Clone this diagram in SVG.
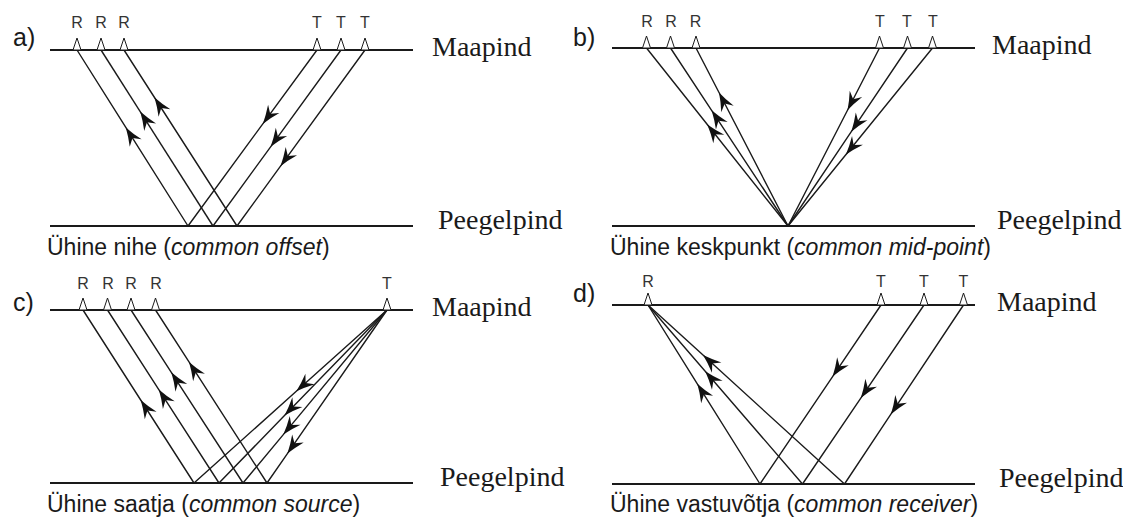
<svg xmlns="http://www.w3.org/2000/svg" xmlns:xlink="http://www.w3.org/1999/xlink" width="1123" height="524" viewBox="0 0 1123 524">
  <defs>
    <style>
      .surf{stroke:#1a1a1a;stroke-width:1.8;fill:none}
      .ray{stroke:#1a1a1a;stroke-width:1.4;fill:none;marker-mid:url(#ah)}
      .sta{fill:#fff;stroke:#1a1a1a;stroke-width:1}
      .lbl{font-family:"Liberation Sans",Arial,sans-serif;font-size:16px;fill:#333;text-anchor:middle}
      .tag{font-family:"Liberation Sans",Arial,sans-serif;font-size:25px;fill:#1a1a1a}
      .cap{font-family:"Liberation Sans",Arial,sans-serif;font-size:23px;fill:#1a1a1a}
      .it{font-style:italic}
      .lay{font-family:"Liberation Serif","Times New Roman",serif;font-size:28px;fill:#1a1a1a}
    </style>
    <!-- barbed arrowhead placed at the middle vertex of each ray -->
    <marker id="ah" viewBox="-20 -8 21 16" refX="0" refY="0" markerWidth="21" markerHeight="16" markerUnits="userSpaceOnUse" orient="auto">
      <path d="M0,0 Q-9,-2.6 -18.5,-7 L-12.5,0 L-18.5,7 Q-9,2.6 0,0 Z" fill="#111"/>
    </marker>
    <!-- station symbol (receiver / transmitter) sitting on the surface -->
    <path id="tri" d="M-4,0 L0,-12 L4,0 Z"/>
  </defs>

  <rect width="1123" height="524" fill="#fff"/>

  <!-- ===== a) common offset ===== -->
  <g id="panel-a">
    <text class="tag" x="13" y="46">a)</text>
    <line class="surf" x1="50" y1="50" x2="413" y2="50"/>
    <line class="surf" x1="50" y1="226" x2="413" y2="226"/>
    <text class="lay" x="432" y="56">Maapind</text>
    <text class="lay" x="438" y="229">Peegelpind</text>
    <text class="cap" x="47" y="255">Ühine nihe (<tspan class="it">common offset</tspan>)</text>
    <g id="a-rays">
      <polyline class="ray" points="188,226 125.8,127.4 77,50"/>
      <polyline class="ray" points="213,226 140.2,111.6 101,50"/>
      <polyline class="ray" points="237,226 154.5,97.5 124,50"/>
      <polyline class="ray" points="317,50 262.8,123.9 188,226"/>
      <polyline class="ray" points="341,50 270.6,146.8 213,226"/>
      <polyline class="ray" points="365,50 280.5,166.2 237,226"/>
    </g>
    <g id="a-R1"><use xlink:href="#tri" class="sta" x="77" y="50"/><text class="lbl" x="77" y="28">R</text></g>
    <g id="a-R2"><use xlink:href="#tri" class="sta" x="101" y="50"/><text class="lbl" x="101" y="28">R</text></g>
    <g id="a-R3"><use xlink:href="#tri" class="sta" x="124" y="50"/><text class="lbl" x="124" y="28">R</text></g>
    <g id="a-T1"><use xlink:href="#tri" class="sta" x="317" y="50"/><text class="lbl" x="317" y="28">T</text></g>
    <g id="a-T2"><use xlink:href="#tri" class="sta" x="341" y="50"/><text class="lbl" x="341" y="28">T</text></g>
    <g id="a-T3"><use xlink:href="#tri" class="sta" x="365" y="50"/><text class="lbl" x="365" y="28">T</text></g>
  </g>

  <!-- ===== b) common mid-point ===== -->
  <g id="panel-b">
    <text class="tag" x="573" y="46">b)</text>
    <line class="surf" x1="612" y1="48" x2="975" y2="48"/>
    <line class="surf" x1="612" y1="226" x2="975" y2="226"/>
    <text class="lay" x="992" y="54">Maapind</text>
    <text class="lay" x="997" y="229">Peegelpind</text>
    <text class="cap" x="610" y="255">Ühine keskpunkt (<tspan class="it">common mid-point</tspan>)</text>
    <g id="b-rays">
      <polyline class="ray" points="788,226 707.3,124.5 646.5,48"/>
      <polyline class="ray" points="788,226 711.6,110.3 670.5,48"/>
      <polyline class="ray" points="788,226 719,92.5 696,48"/>
      <polyline class="ray" points="879.5,48 847.5,110.3 788,226"/>
      <polyline class="ray" points="907.5,48 851.3,131.7 788,226"/>
      <polyline class="ray" points="932.5,48 845.8,154.8 788,226"/>
    </g>
    <g id="b-R1"><use xlink:href="#tri" class="sta" x="646.5" y="48"/><text class="lbl" x="647" y="27">R</text></g>
    <g id="b-R2"><use xlink:href="#tri" class="sta" x="670.5" y="48"/><text class="lbl" x="671" y="27">R</text></g>
    <g id="b-R3"><use xlink:href="#tri" class="sta" x="696" y="48"/><text class="lbl" x="695.5" y="27">R</text></g>
    <g id="b-T1"><use xlink:href="#tri" class="sta" x="879.5" y="48"/><text class="lbl" x="880" y="27">T</text></g>
    <g id="b-T2"><use xlink:href="#tri" class="sta" x="907.5" y="48"/><text class="lbl" x="907" y="27">T</text></g>
    <g id="b-T3"><use xlink:href="#tri" class="sta" x="932.5" y="48"/><text class="lbl" x="933" y="27">T</text></g>
  </g>

  <!-- ===== c) common source ===== -->
  <g id="panel-c">
    <text class="tag" x="13" y="311">c)</text>
    <line class="surf" x1="50" y1="310" x2="413" y2="310"/>
    <line class="surf" x1="50" y1="483" x2="413" y2="483"/>
    <text class="lay" x="432" y="316">Maapind</text>
    <text class="lay" x="440" y="486">Peegelpind</text>
    <text class="cap" x="47" y="512">Ühine saatja (<tspan class="it">common source</tspan>)</text>
    <g id="c-rays">
      <polyline class="ray" points="194,483 140.7,400 83,310"/>
      <polyline class="ray" points="219,483 158.8,389.6 107.5,310"/>
      <polyline class="ray" points="243,483 171.3,372.3 131,310"/>
      <polyline class="ray" points="267,483 189,361.9 155.5,310"/>
      <polyline class="ray" points="387,310 296.3,391.3 194,483"/>
      <polyline class="ray" points="387,310 284.5,415.5 219,483"/>
      <polyline class="ray" points="387,310 283.3,434.6 243,483"/>
      <polyline class="ray" points="387,310 287.4,453.6 267,483"/>
    </g>
    <g id="c-R1"><use xlink:href="#tri" class="sta" x="83" y="310"/><text class="lbl" x="83" y="289">R</text></g>
    <g id="c-R2"><use xlink:href="#tri" class="sta" x="107.5" y="310"/><text class="lbl" x="108" y="289">R</text></g>
    <g id="c-R3"><use xlink:href="#tri" class="sta" x="131" y="310"/><text class="lbl" x="131" y="289">R</text></g>
    <g id="c-R4"><use xlink:href="#tri" class="sta" x="155.5" y="310"/><text class="lbl" x="156" y="289">R</text></g>
    <g id="c-T"><use xlink:href="#tri" class="sta" x="387" y="310"/><text class="lbl" x="387" y="289">T</text></g>
  </g>

  <!-- ===== d) common receiver ===== -->
  <g id="panel-d">
    <text class="tag" x="573" y="302">d)</text>
    <line class="surf" x1="612" y1="305" x2="975" y2="305"/>
    <line class="surf" x1="612" y1="484" x2="975" y2="484"/>
    <text class="lay" x="997" y="311">Maapind</text>
    <text class="lay" x="999" y="487">Peegelpind</text>
    <text class="cap" x="610" y="512">Ühine vastuvõtja (<tspan class="it">common receiver</tspan>)</text>
    <g id="d-rays">
      <polyline class="ray" points="760,484 697.3,383.8 648,305"/>
      <polyline class="ray" points="802.5,484 705.2,371.2 648,305"/>
      <polyline class="ray" points="844.5,484 703,355.1 648,305"/>
      <polyline class="ray" points="881,305 832.6,376.6 760,484"/>
      <polyline class="ray" points="924,305 860.8,398.1 802.5,484"/>
      <polyline class="ray" points="963.5,305 890.9,414.2 844.5,484"/>
    </g>
    <g id="d-R"><use xlink:href="#tri" class="sta" x="648" y="305"/><text class="lbl" x="648" y="287">R</text></g>
    <g id="d-T1"><use xlink:href="#tri" class="sta" x="881" y="305"/><text class="lbl" x="881" y="287">T</text></g>
    <g id="d-T2"><use xlink:href="#tri" class="sta" x="924" y="305"/><text class="lbl" x="924" y="287">T</text></g>
    <g id="d-T3"><use xlink:href="#tri" class="sta" x="963.5" y="305"/><text class="lbl" x="963.5" y="287">T</text></g>
  </g>
</svg>
